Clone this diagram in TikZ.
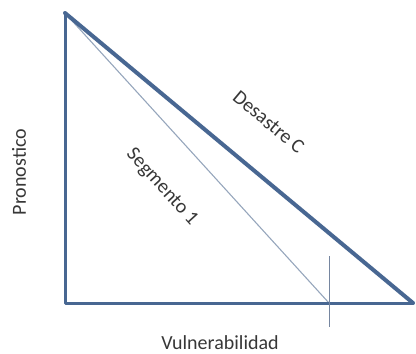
\documentclass[tikz,border=0pt]{standalone}
\usepackage{fontspec}
\setmainfont{Carlito}
\definecolor{ejeazul}{RGB}{72,103,146}
\definecolor{segazul}{RGB}{150,166,188}
\definecolor{marcagris}{RGB}{118,134,160}
\definecolor{textogris}{RGB}{55,55,55}

\begin{document}
\begin{tikzpicture}[x=1pt, y=-1pt,
    eje/.style={line width=3pt, ejeazul, line cap=round, line join=round},
    rotulo/.style={text=textogris, font=\fontsize{20}{24}\selectfont, inner sep=0pt}]
    \useasboundingbox (0,0) rectangle (416,354);

    % Vertices of the triangle
    \coordinate (cima) at (65,13);
    \coordinate (origen) at (65,303);
    \coordinate (derecha) at (413,303);
    \coordinate (corte) at (329,303);

    % Segment line (thin, drawn first)
    \draw[segazul, line width=1.1pt] (cima) -- (corte)
        node[pos=0.495, sloped, below=37pt, rotulo] {Segmento 1};

    % Legs and hypotenuse
    \draw[eje] (cima) -- (origen) -- (derecha);
    \draw[eje, line width=4pt] (cima) -- (derecha)
        node[pos=0.5, sloped, above=38pt, rotulo] {Desastre C};

    % Tick at the cut
    \coordinate (marcaarriba) at (329,256);
    \coordinate (marcaabajo) at (329,327);
    \draw[marcagris, line width=1pt] (marcaarriba) -- (marcaabajo);

    % Axis labels
    \node[rotulo] (vuln) at (220,343) {Vulnerabilidad};
    \node[rotulo, rotate=90] (pron) at (19,172) {Pronostico};
\end{tikzpicture}
\end{document}
